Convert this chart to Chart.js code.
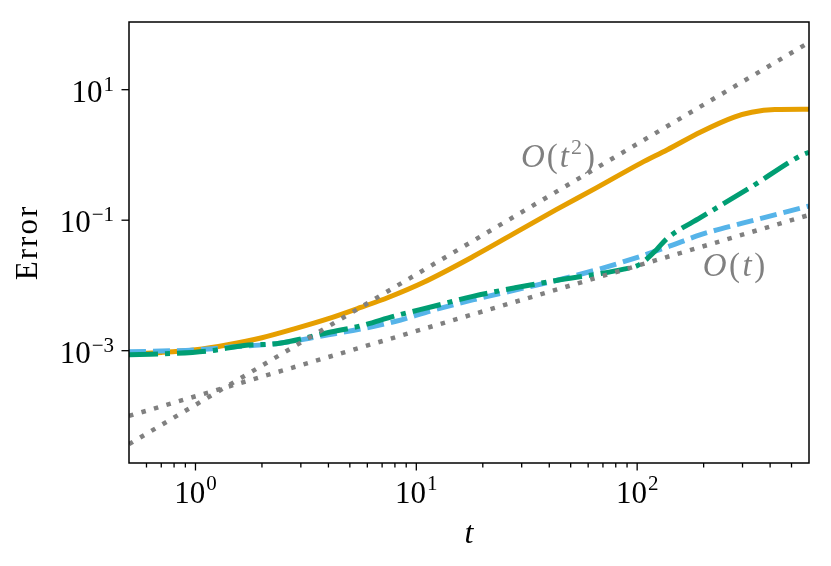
<!DOCTYPE html>
<html>
<head>
<meta charset="utf-8">
<script src="https://cdn.jsdelivr.net/npm/chart.js@4.4.1/dist/chart.umd.min.js"></script>
<style>
  html, body { margin: 0; padding: 0; background: #fff; }
  #wrap { width: 831px; height: 566px; }
</style>
</head>
<body>
<div id="wrap"><canvas id="myChart" width="831" height="566"></canvas></div>
<script>
// solid orange curve
const tSolid   = [0.5, 0.7, 1.0, 1.4, 2.0, 2.8, 4.0, 5.6, 7.5, 10.8, 18, 30, 43, 65, 104, 137, 194, 275, 330, 420, 600];
const errSolid = [9.0e-4, 9.4e-4, 1.03e-3, 1.23e-3, 1.58e-3, 2.16e-3, 3.1e-3, 4.6e-3, 6.6e-3, 0.0112, 0.0275, 0.073, 0.145, 0.31, 0.75, 1.2, 2.25, 3.8, 4.5, 4.95, 5.0];

// dashed blue curve
const tDashed   = [0.5, 1.0, 1.5, 2.4, 4.0, 5.6, 8, 12, 18, 28, 43, 68, 97, 140, 194, 300, 450, 600];
const errDashed = [9.6e-4, 1.03e-3, 1.15e-3, 1.3e-3, 1.75e-3, 2.15e-3, 2.8e-3, 4.2e-3, 6.0e-3, 8.5e-3, 0.0119, 0.018, 0.026, 0.040, 0.060, 0.090, 0.128, 0.165];

// dash-dot green curve
const tDashDot   = [0.5, 0.7, 1.17, 1.66, 2.4, 4.0, 5.6, 8, 12, 18, 28, 43, 68, 87, 100, 110, 123, 137, 194, 327, 552, 600];
const errDashDot = [8.7e-4, 8.9e-4, 1.0e-3, 1.2e-3, 1.3e-3, 1.9e-3, 2.4e-3, 3.4e-3, 4.8e-3, 6.8e-3, 9.2e-3, 0.0119, 0.0152, 0.0178, 0.020, 0.025, 0.036, 0.053, 0.11, 0.32, 0.98, 1.1];

// dotted reference slopes
const tRef         = [0.5, 600];
const refLinear    = [1.0e-4, 0.12];
const refQuadratic = [3.7e-5, 53];

// axis ticks
const xMajorTicks = [1, 10, 100];
const xMajorExp   = ['0', '1', '2'];
const xMinorTicks = [0.6, 0.7, 0.8, 0.9, 2, 3, 4, 5, 6, 7, 8, 9, 20, 30, 40, 50, 60, 70, 80, 90, 200, 300, 400, 500];
const yMajorTicks = [10, 0.1, 0.001];
const yMajorExp   = ['1', '\u22121', '\u22123'];

const GREY = '#808080';
const SERIF = '"Liberation Serif", "DejaVu Serif", serif';

function pts(xs, ys) {
    return xs.map((t, i) => ({ x: t, y: ys[i] }));
}

function drawParts(ctx, cx, baseline, parts, gap) {
    let total = 0;
    const widths = parts.map(p => {
        ctx.font = p.font;
        const w = ctx.measureText(p.s).width;
        total += w;
        return w;
    });
    total += gap * (parts.length - 1);
    let xx = cx - total / 2;
    parts.forEach((p, i) => {
        ctx.font = p.font;
        ctx.fillText(p.s, xx, baseline + (p.dy || 0));
        xx += widths[i] + gap;
    });
}

const axesDecor = {
    id: 'axesDecor',
    afterDraw(chart) {
        const { ctx, chartArea: a, scales: { x, y } } = chart;
        ctx.save();
        ctx.strokeStyle = '#000';
        ctx.fillStyle = '#000';

        // frame
        ctx.lineWidth = 1.5;
        ctx.strokeRect(a.left, a.top, a.right - a.left, a.bottom - a.top);

        // x tick marks
        ctx.lineWidth = 1.3;
        xMinorTicks.forEach(v => {
            const px = x.getPixelForValue(v);
            ctx.beginPath();
            ctx.moveTo(px, a.bottom);
            ctx.lineTo(px, a.bottom + 4.5);
            ctx.stroke();
        });
        xMajorTicks.forEach(v => {
            const px = x.getPixelForValue(v);
            ctx.beginPath();
            ctx.moveTo(px, a.bottom);
            ctx.lineTo(px, a.bottom + 7.5);
            ctx.stroke();
        });
        yMajorTicks.forEach(v => {
            const py = y.getPixelForValue(v);
            ctx.beginPath();
            ctx.moveTo(a.left, py);
            ctx.lineTo(a.left - 7.5, py);
            ctx.stroke();
        });

        // x tick labels
        const baseFont = '31px ' + SERIF;
        const expFont = '21px ' + SERIF;
        ctx.textAlign = 'left';
        ctx.textBaseline = 'alphabetic';
        xMajorTicks.forEach((v, i) => {
            const px = x.getPixelForValue(v);
            ctx.font = baseFont;
            const wb = ctx.measureText('10').width;
            ctx.font = expFont;
            const we = ctx.measureText(xMajorExp[i]).width;
            const left = px - (wb + we + 1) / 2;
            ctx.font = baseFont;
            ctx.fillText('10', left, 503);
            ctx.font = expFont;
            ctx.fillText(xMajorExp[i], left + wb + 1, 490);
        });

        // y tick labels
        yMajorTicks.forEach((v, i) => {
            const py = y.getPixelForValue(v);
            ctx.font = expFont;
            const we = ctx.measureText(yMajorExp[i]).width;
            ctx.textAlign = 'right';
            ctx.fillText(yMajorExp[i], 114, py + 1);
            ctx.font = baseFont;
            ctx.fillText('10', 114 - we - 1, py + 12);
        });

        // axis titles
        ctx.textAlign = 'center';
        ctx.font = 'italic 32px ' + SERIF;
        ctx.fillText('t', (a.left + a.right) / 2, 543);
        ctx.save();
        ctx.translate(37, (a.top + a.bottom) / 2);
        ctx.rotate(-Math.PI / 2);
        ctx.font = '31px ' + SERIF;
        ctx.letterSpacing = '2px';
        ctx.fillText('Error', 0, 0);
        ctx.restore();

        // slope annotations
        ctx.fillStyle = GREY;
        ctx.textAlign = 'left';
        const it = 'italic 33px ' + SERIF;
        const up = '33px ' + SERIF;
        drawParts(ctx, 558, 167, [
            { s: 'O', font: it },
            { s: '(', font: up },
            { s: 't', font: it },
            { s: '2', font: '22px ' + SERIF, dy: -13 },
            { s: ')', font: up }
        ], 2);
        drawParts(ctx, 734, 276, [
            { s: 'O', font: it },
            { s: '(', font: up },
            { s: 't', font: it },
            { s: ')', font: up }
        ], 2.5);

        ctx.restore();
    }
};

const ctx = document.getElementById('myChart');
const myChart = new Chart(ctx, {
    type: 'line',
    data: {
        datasets: [
            {
                data: pts(tRef, refQuadratic),
                borderColor: GREY,
                borderWidth: 4.5,
                borderDash: [4.5, 8.5],
                borderCapStyle: 'butt'
            },
            {
                data: pts(tRef, refLinear),
                borderColor: GREY,
                borderWidth: 4.5,
                borderDash: [4.5, 8.5],
                borderCapStyle: 'butt'
            },
            {
                data: pts(tDashDot, errDashDot),
                borderColor: '#009E73',
                borderWidth: 5,
                borderDash: [29, 7, 5, 7],
                cubicInterpolationMode: 'monotone'
            },
            {
                data: pts(tDashed, errDashed),
                borderColor: '#56B4E9',
                borderWidth: 5,
                borderDash: [17, 7],
                cubicInterpolationMode: 'monotone'
            },
            {
                data: pts(tSolid, errSolid),
                borderColor: '#E69F00',
                borderWidth: 5,
                cubicInterpolationMode: 'monotone'
            }
        ]
    },
    options: {
        responsive: false,
        animation: false,
        clip: 0,
        layout: {
            padding: { left: 129, top: 22, right: 22, bottom: 103 }
        },
        elements: {
            point: { radius: 0 }
        },
        scales: {
            x: {
                type: 'logarithmic',
                min: 0.5,
                max: 600,
                bounds: 'data',
                display: false
            },
            y: {
                type: 'logarithmic',
                min: 1.9e-5,
                max: 109,
                bounds: 'data',
                display: false
            }
        },
        plugins: {
            legend: { display: false },
            tooltip: { enabled: false }
        }
    },
    plugins: [axesDecor]
});
</script>
</body>
</html>
